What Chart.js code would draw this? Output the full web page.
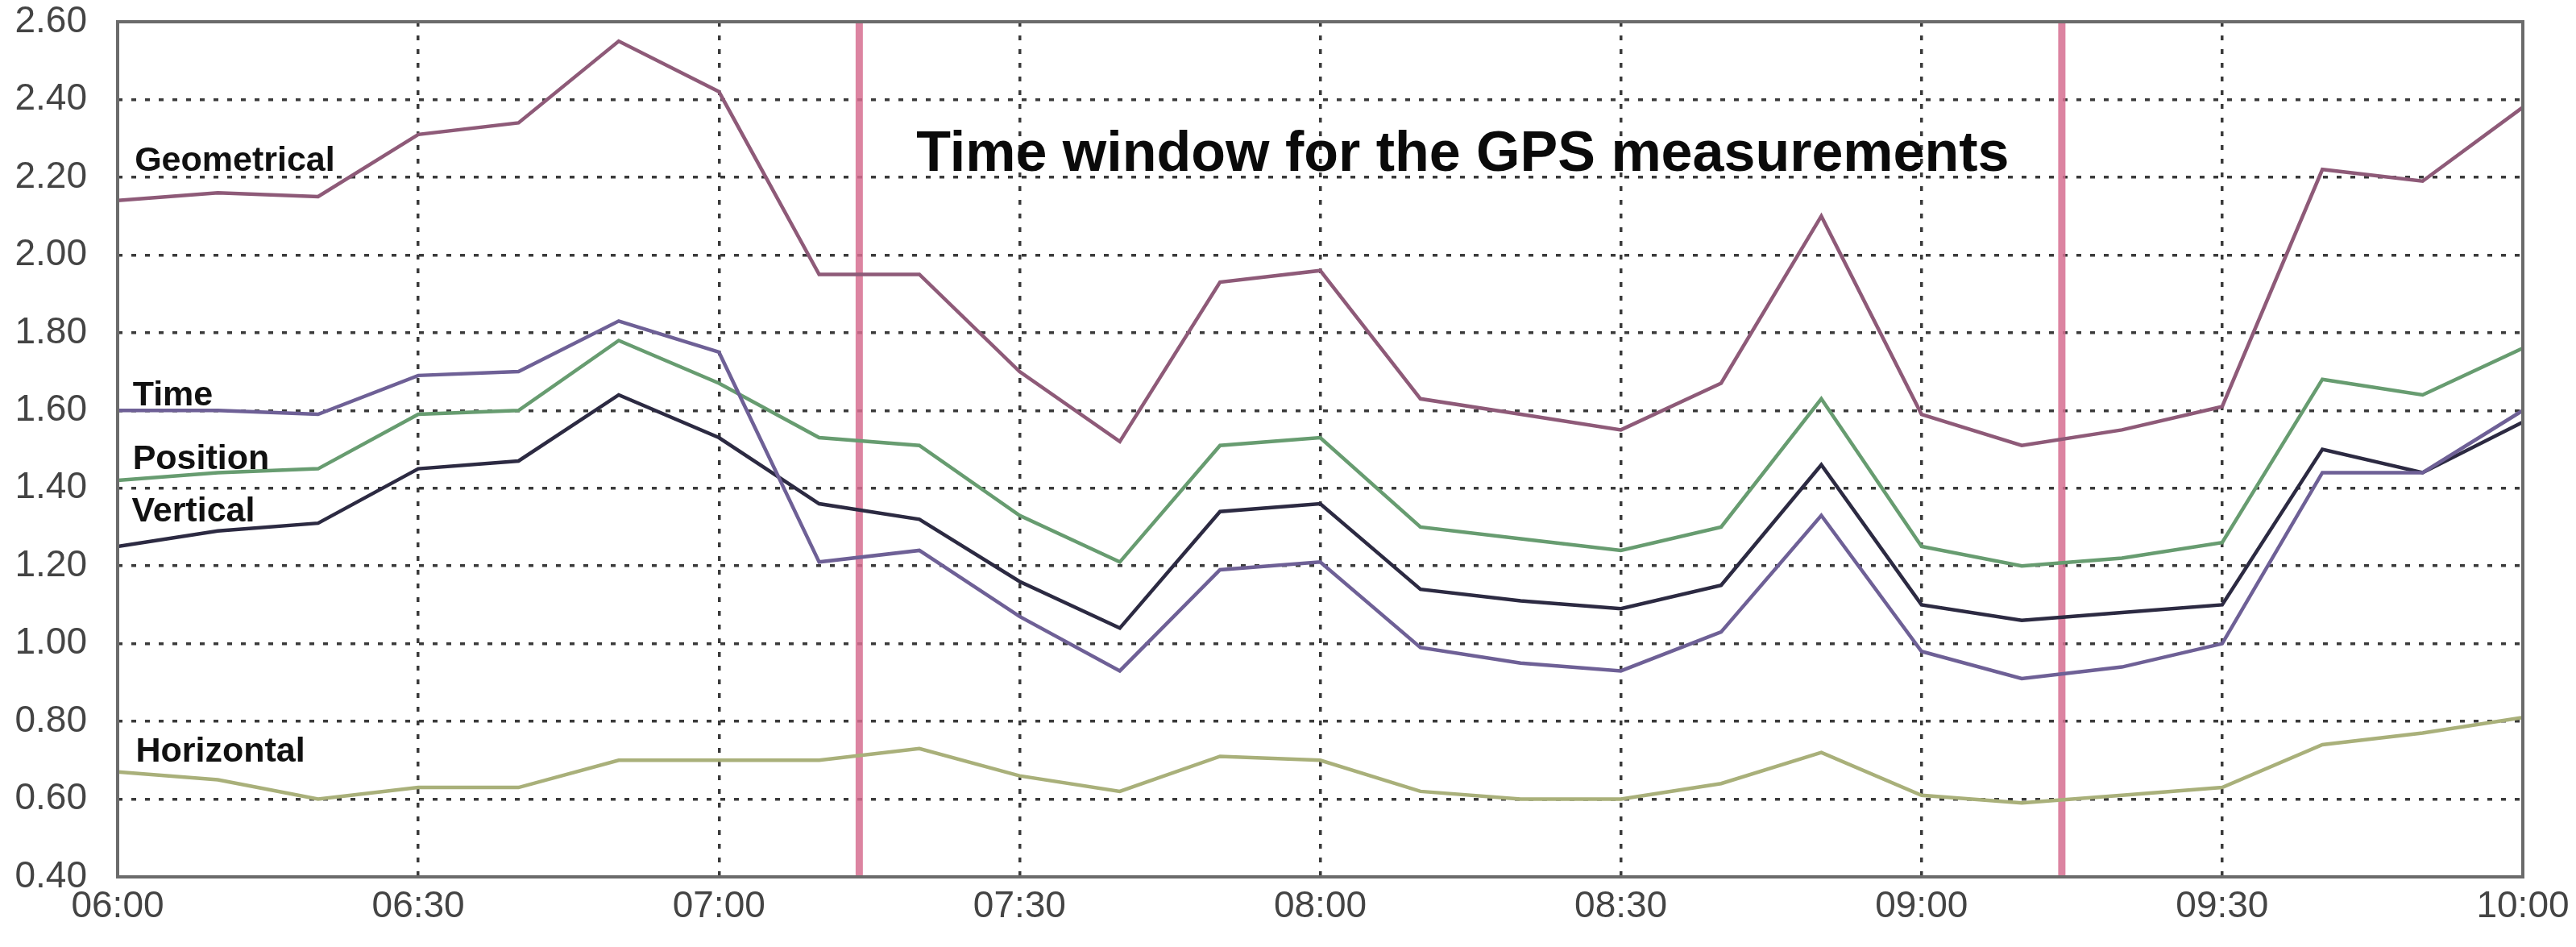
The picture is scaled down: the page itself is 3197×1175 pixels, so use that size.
<!DOCTYPE html>
<html>
<head>
<meta charset="utf-8">
<script src="https://cdn.jsdelivr.net/npm/chart.js@4"></script>
<style>
  html, body { margin: 0; padding: 0; background: #fff; }
  #wrap { width: 3197px; height: 1175px; }
</style>
</head>
<body>
<div id="wrap"><canvas id="gpsChart" width="3197" height="1175"></canvas></div>
<script>
// sample times (every 10 minutes)
const times = ['06:00','06:10','06:20','06:30','06:40','06:50','07:00','07:10','07:20','07:30',
               '07:40','07:50','08:00','08:10','08:20','08:30','08:40','08:50','09:00','09:10',
               '09:20','09:30','09:40','09:50','10:00'];

const geometrical = [2.14, 2.16, 2.15, 2.31, 2.34, 2.55, 2.42, 1.95, 1.95, 1.70, 1.52, 1.93, 1.96,
                     1.63, 1.59, 1.55, 1.67, 2.10, 1.59, 1.51, 1.55, 1.61, 2.22, 2.19, 2.38];
const timeDop     = [1.60, 1.60, 1.59, 1.69, 1.70, 1.83, 1.75, 1.21, 1.24, 1.07, 0.93, 1.19, 1.21,
                     0.99, 0.95, 0.93, 1.03, 1.33, 0.98, 0.91, 0.94, 1.00, 1.44, 1.44, 1.60];
const position    = [1.42, 1.44, 1.45, 1.59, 1.60, 1.78, 1.67, 1.53, 1.51, 1.33, 1.21, 1.51, 1.53,
                     1.30, 1.27, 1.24, 1.30, 1.63, 1.25, 1.20, 1.22, 1.26, 1.68, 1.64, 1.76];
const vertical    = [1.25, 1.29, 1.31, 1.45, 1.47, 1.64, 1.53, 1.36, 1.32, 1.16, 1.04, 1.34, 1.36,
                     1.14, 1.11, 1.09, 1.15, 1.46, 1.10, 1.06, 1.08, 1.10, 1.50, 1.44, 1.57];
const horizontal  = [0.67, 0.65, 0.60, 0.63, 0.63, 0.70, 0.70, 0.70, 0.73, 0.66, 0.62, 0.71, 0.70,
                     0.62, 0.60, 0.60, 0.64, 0.72, 0.61, 0.59, 0.61, 0.63, 0.74, 0.77, 0.81];

// time window for the GPS measurements (start / end)
const windowTimes = ['07:14', '09:14'];
const windowTitle = 'Time window for the GPS measurements';

const seriesNames = ['Geometrical', 'Time', 'Position', 'Vertical', 'Horizontal'];

const START = 6 * 60;
const toMin = t => { const p = t.split(':'); return +p[0] * 60 + +p[1] - START; };
const fmtMin = m => {
    const t = m + START;
    return String(Math.floor(t / 60)).padStart(2, '0') + ':' + String(t % 60).padStart(2, '0');
};

const xs = times.map(toMin);
const pts = arr => arr.map((v, i) => ({ x: xs[i], y: v }));

// where the series names sit (minutes, value at baseline)
const labelSpots = [
    { x: 1.7, y: 2.216 },
    { x: 1.5, y: 1.613 },
    { x: 1.5, y: 1.449 },
    { x: 1.4, y: 1.314 },
    { x: 1.8, y: 0.697 }
];
const titleSpot = { x: 79.7, y: 2.216 };

const FONT = "'Liberation Sans', Arial, sans-serif";

const overlayPlugin = {
    id: 'overlay',
    beforeDatasetsDraw(chart) {
        const { ctx, chartArea, scales } = chart;
        ctx.save();
        ctx.strokeStyle = 'rgba(214, 110, 145, 0.85)';
        ctx.lineWidth = 9;
        windowTimes.forEach(t => {
            const px = scales.x.getPixelForValue(toMin(t));
            ctx.beginPath();
            ctx.moveTo(px, chartArea.top);
            ctx.lineTo(px, chartArea.bottom);
            ctx.stroke();
        });
        ctx.restore();
    },
    afterDatasetsDraw(chart) {
        const { ctx, chartArea, scales } = chart;
        ctx.save();
        ctx.fillStyle = '#111';
        ctx.textAlign = 'left';
        ctx.textBaseline = 'alphabetic';
        ctx.font = 'bold 43px ' + FONT;
        seriesNames.forEach((name, i) => {
            const s = labelSpots[i];
            ctx.fillText(name, scales.x.getPixelForValue(s.x), scales.y.getPixelForValue(s.y));
        });
        ctx.font = 'bold 70px ' + FONT;
        ctx.fillStyle = '#0a0a0a';
        ctx.fillText(windowTitle, scales.x.getPixelForValue(titleSpot.x), scales.y.getPixelForValue(titleSpot.y));

        // plot box
        ctx.strokeStyle = '#6b6b6b';
        ctx.lineWidth = 4;
        ctx.strokeRect(chartArea.left, chartArea.top, chartArea.right - chartArea.left, chartArea.bottom - chartArea.top);
        ctx.restore();
    }
};

const lineStyle = (color) => ({
    borderColor: color,
    backgroundColor: color,
    borderWidth: 4.5,
    pointRadius: 0,
    tension: 0,
    fill: false
});

const gridOpts = { color: '#3a3a3a', lineWidth: 3.5, drawTicks: false };
const borderOpts = { display: false, dash: [6, 11] };

new Chart(document.getElementById('gpsChart'), {
    type: 'line',
    data: {
        datasets: [
            Object.assign({ label: seriesNames[0], data: pts(geometrical) }, lineStyle('#8e5a78')),
            Object.assign({ label: seriesNames[1], data: pts(timeDop) }, lineStyle('#6e6096')),
            Object.assign({ label: seriesNames[2], data: pts(position) }, lineStyle('#679c70')),
            Object.assign({ label: seriesNames[3], data: pts(vertical) }, lineStyle('#2c2a42')),
            Object.assign({ label: seriesNames[4], data: pts(horizontal) }, lineStyle('#a9b07a'))
        ]
    },
    options: {
        responsive: false,
        animation: false,
        devicePixelRatio: 1,
        layout: { padding: { left: 0, top: 27, right: 66, bottom: 0 } },
        plugins: {
            legend: { display: false },
            tooltip: { enabled: false },
            title: { display: false }
        },
        scales: {
            x: {
                type: 'linear',
                min: 0,
                max: 240,
                grid: gridOpts,
                border: borderOpts,
                ticks: {
                    stepSize: 30,
                    padding: 10,
                    color: '#444',
                    font: { family: FONT, size: 46 },
                    maxRotation: 0,
                    callback: v => fmtMin(v)
                },
                afterFit: s => { s.height = 87; s.paddingLeft = 0; s.paddingRight = 0; }
            },
            y: {
                min: 0.4,
                max: 2.6,
                grid: gridOpts,
                border: borderOpts,
                ticks: {
                    stepSize: 0.2,
                    padding: 38,
                    color: '#444',
                    font: { family: FONT, size: 46 },
                    callback: v => v.toFixed(2)
                },
                afterFit: s => { s.width = 146; s.paddingTop = 0; s.paddingBottom = 0; }
            }
        }
    },
    plugins: [overlayPlugin]
});
</script>
</body>
</html>
